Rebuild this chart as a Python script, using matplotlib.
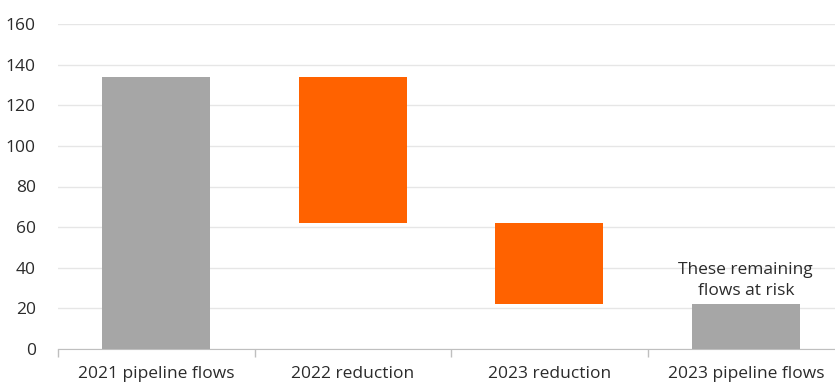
import matplotlib
matplotlib.use('Agg')
import matplotlib.pyplot as plt
import numpy as np

categories = ['2021 pipeline flows', '2022 reduction', '2023 reduction', '2023 pipeline flows']
bar_bottoms = [0, 62, 22, 0]
bar_tops = [134, 134, 62, 22]
bar_colors = ['#a6a6a6', '#ff6200', '#ff6200', '#a6a6a6']
note_text = 'These remaining\nflows at risk'

plt.rcParams['font.family'] = ['Open Sans', 'DejaVu Sans']

fig = plt.figure(figsize=(8.35, 3.83), dpi=100)
ax = fig.add_axes([58 / 835, 1 - 349 / 383, 786 / 835, 325 / 383])

x = np.arange(len(categories))
heights = [t - b for t, b in zip(bar_tops, bar_bottoms)]
ax.bar(x, heights, bottom=bar_bottoms, width=0.55, color=bar_colors, zorder=3)

ax.text(x[-1], bar_tops[-1] + 2.5, note_text, ha='center', va='bottom',
        fontsize=12.5, color='#2b2b2b', linespacing=1.45, zorder=4)

ax.set_xlim(-0.5, len(categories) - 0.5)
ax.set_ylim(0, 160)
ax.set_yticks(range(0, 161, 20))
ax.grid(axis='y', color='#e6e6e6', linewidth=1, zorder=0)

ax.set_xticks(x)
ax.set_xticklabels(categories)
ax.set_xticks(np.arange(-0.5, len(categories) - 0.5, 1), minor=True)
ax.tick_params(axis='x', which='major', length=0, pad=12, labelsize=12.5, labelcolor='#2b2b2b')
ax.tick_params(axis='x', which='minor', length=6, color='#bfbfbf', width=1)
ax.tick_params(axis='y', length=0, pad=16, labelsize=12.5, labelcolor='#2b2b2b')

for s in ['top', 'right', 'left']:
    ax.spines[s].set_visible(False)
ax.spines['bottom'].set_color('#bfbfbf')

fig.savefig('out.png', dpi=100)
